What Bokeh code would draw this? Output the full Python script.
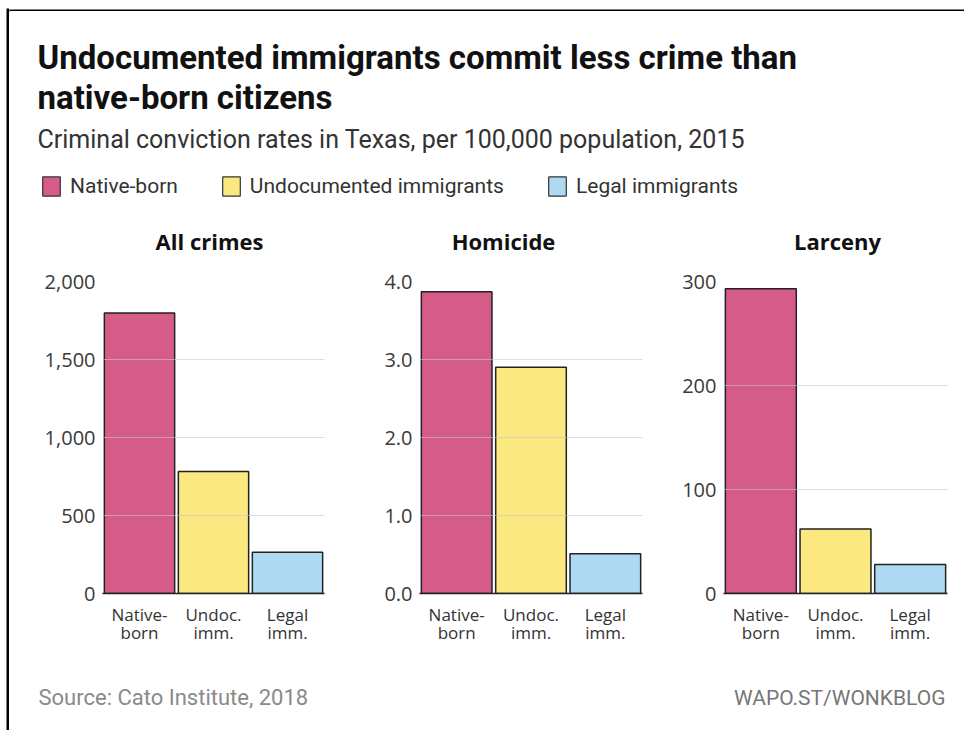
from bokeh.plotting import figure
from bokeh.layouts import row, column
from bokeh.models import (Range1d, FactorRange, FixedTicker, NumeralTickFormatter,
                          Legend, LegendItem, ColumnDataSource)
from bokeh.core.properties import value
from bokeh.embed import file_html
from bokeh.resources import INLINE

# ---------------- data ----------------
title_lines = ["Undocumented immigrants commit less crime than", "native-born citizens"]
subtitle = "Criminal conviction rates in Texas, per 100,000 population, 2015"
series_names = ["Native-born", "Undocumented immigrants", "Legal immigrants"]
categories = ["Native-\nborn", "Undoc.\nimm.", "Legal\nimm."]
colors = ["#d55b89", "#fbe880", "#aed9f2"]
panel_titles = ["All crimes", "Homicide", "Larceny"]
all_crimes = [1798, 782, 264]
homicide = [3.87, 2.90, 0.51]
larceny = [293, 62, 28]
all_ticks = [0, 500, 1000, 1500, 2000]
hom_ticks = [0, 1, 2, 3, 4]
lar_ticks = [0, 100, 200, 300]
source_text = "Source: Cato Institute, 2018"
credit_text = "WAPO.ST/WONKBLOG"

FONT = "Roboto"
TICK_FONT = "Open Sans"
HEADER_H = 245
PANEL_TOP = 25
PANEL_TITLE_X = [200, 494, 828]   # horizontal placement of the panel headings (px)


def blank(p):
    p.axis.visible = False
    p.grid.visible = False
    p.outline_line_color = None


# ---------------- border strips ----------------
left_strip = figure(width=9, height=730, min_border_left=6, min_border_right=0,
                    min_border_top=8, min_border_bottom=0, background_fill_color="black",
                    border_fill_color="white", x_range=Range1d(0, 1), y_range=Range1d(0, 1),
                    toolbar_location=None, output_backend="svg")
blank(left_strip)

top_strip = figure(width=955, height=11, min_border_left=0, min_border_right=0,
                   min_border_top=8, min_border_bottom=0, background_fill_color="black",
                   border_fill_color="white", x_range=Range1d(0, 1), y_range=Range1d(0, 1),
                   toolbar_location=None, output_backend="svg")
blank(top_strip)

# ---------------- header ----------------
header = figure(width=955, height=HEADER_H, x_range=Range1d(0, 955),
                y_range=Range1d(HEADER_H, 0),
                min_border=0, toolbar_location=None, output_backend="svg")
blank(header)
header.text(x=[28, 28], y=[46, 86], text=title_lines, text_font=value(FONT),
            text_font_style="bold", text_font_size="33px", text_color="#111111",
            text_baseline="middle")
header.text(x=[28], y=[128], text=[subtitle], text_font=value(FONT),
            text_font_size="25px", text_color="#333333", text_baseline="middle")
header.text(x=PANEL_TITLE_X, y=[229] * 3, text=panel_titles, text_font=value(TICK_FONT),
            text_font_style="bold", text_font_size="22px", text_color="#111111",
            text_baseline="middle", text_align="center")

# legend swatches: renderers kept off-screen, only their legend glyphs are shown
items = []
for name, c in zip(series_names, colors):
    r = header.vbar(x=[-1000], top=[-1000], bottom=[-1001], width=1, fill_color=c,
                    line_color="#333333", line_width=1.2)
    items.append(LegendItem(label=name, renderers=[r]))
legend = Legend(items=items, orientation="horizontal", location=(31, 58),
                glyph_width=22, glyph_height=24, label_text_font=FONT,
                label_text_font_size="21px", label_text_color="#333333",
                label_standoff=8, spacing=42, padding=0, margin=0,
                border_line_color=None, background_fill_alpha=0)
header.add_layout(legend)


# ---------------- panels ----------------
def panel(vals, ticks, fmt, width, left, right):
    p = figure(width=width, height=PANEL_TOP + 312 + 67,
               x_range=FactorRange(factors=categories, range_padding=0),
               y_range=Range1d(0, ticks[-1]),
               min_border_left=left, min_border_right=right,
               min_border_top=PANEL_TOP, min_border_bottom=67,
               toolbar_location=None, output_backend="svg")
    p.outline_line_color = None

    src = ColumnDataSource(dict(x=categories, top=vals, color=colors))
    p.vbar(x="x", top="top", width=0.95, fill_color="color", line_color="#222222",
           line_width=1.5, source=src)

    p.xgrid.visible = False
    p.ygrid.ticker = FixedTicker(ticks=ticks)
    p.ygrid.grid_line_color = "#c8c8c8"
    p.ygrid.grid_line_alpha = 0.6
    p.ygrid.level = "overlay"

    p.yaxis.ticker = FixedTicker(ticks=ticks)
    p.yaxis.formatter = NumeralTickFormatter(format=fmt)
    p.yaxis.axis_line_color = None
    p.yaxis.major_tick_line_color = None
    p.yaxis.minor_tick_line_color = None
    p.yaxis.major_tick_out = 0
    p.yaxis.major_label_standoff = 7
    p.yaxis.major_label_text_font = TICK_FONT
    p.yaxis.major_label_text_font_size = "20px"
    p.yaxis.major_label_text_color = "#3a3a3a"

    p.xaxis.axis_line_color = "#222222"
    p.xaxis.axis_line_width = 1.5
    p.xaxis.major_tick_line_color = None
    p.xaxis.major_tick_out = 0
    p.xaxis.major_label_standoff = 9
    p.xaxis.major_label_text_font = TICK_FONT
    p.xaxis.major_label_text_font_size = "17px"
    p.xaxis.major_label_text_line_height = 0.8
    p.xaxis.major_label_text_color = "#333333"
    return p


p1 = panel(all_crimes, all_ticks, "0,0", 331, 93, 16)
p2 = panel(homicide, hom_ticks, "0.0", 320, 79, 18)
p3 = panel(larceny, lar_ticks, "0,0", 304, 63, 17)

# ---------------- footer ----------------
footer = figure(width=955, height=70, x_range=Range1d(0, 955), y_range=Range1d(70, 0),
                min_border=0, toolbar_location=None, output_backend="svg")
blank(footer)
footer.text(x=[29], y=[37], text=[source_text], text_font=value(FONT),
            text_font_size="22px", text_color="#8a8a8a", text_baseline="middle")
footer.text(x=[936], y=[37], text=[credit_text], text_font=value(FONT),
            text_font_size="21px", text_color="#777777", text_baseline="middle",
            text_align="right")

layout = row(left_strip, column(top_strip, header, row(p1, p2, p3), footer))

open("out.html", "w").write(file_html(layout, INLINE))
